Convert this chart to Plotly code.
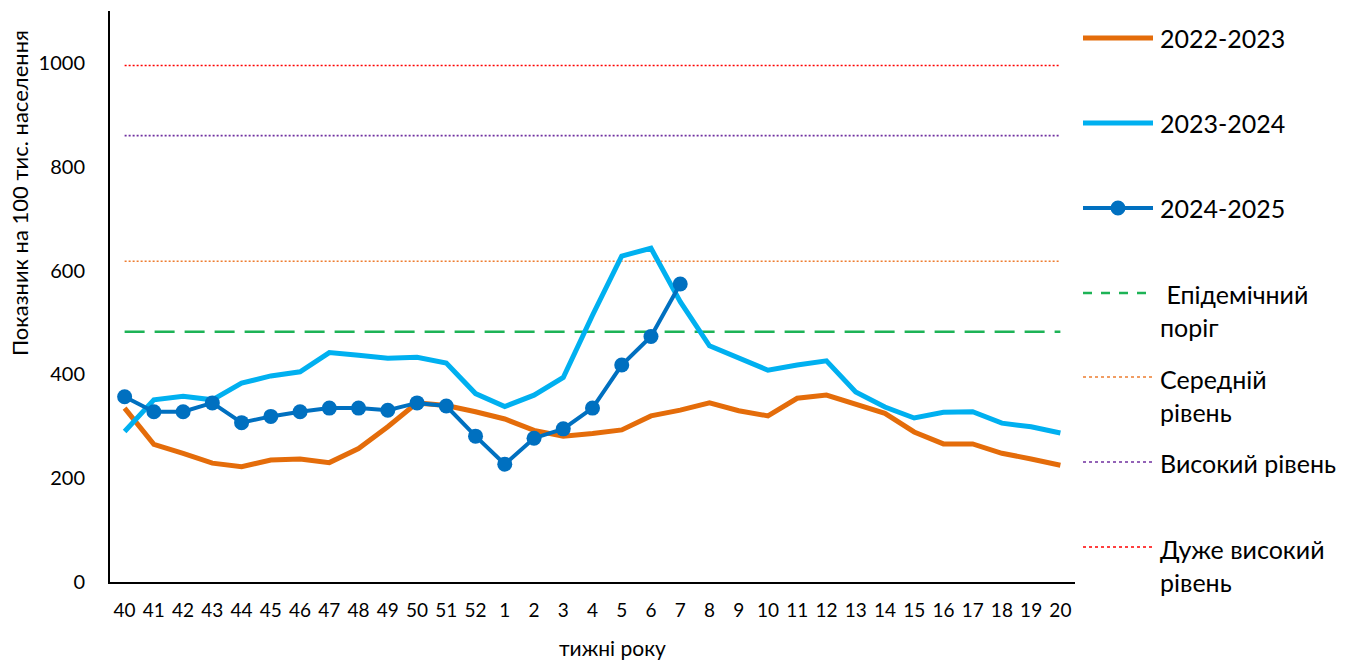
import plotly.graph_objects as go

# ---------------- data ----------------
weeks = ["40", "41", "42", "43", "44", "45", "46", "47", "48", "49", "50", "51", "52",
         "1", "2", "3", "4", "5", "6", "7", "8", "9", "10", "11", "12", "13", "14",
         "15", "16", "17", "18", "19", "20"]

season_2022_2023 = [335, 265, 248, 229, 222, 235, 237, 230, 257, 299, 345, 340, 328,
                    314, 292, 281, 286, 293, 320, 331, 345, 330, 320, 354, 360, 342,
                    325, 289, 266, 266, 248, 237, 225]
season_2023_2024 = [290, 351, 358, 351, 383, 397, 405, 442, 437, 431, 433, 422, 363,
                    338, 360, 394, 514, 628, 643, 540, 455, 431, 408, 418, 426, 366,
                    337, 316, 327, 328, 306, 299, 287]
season_2024_2025 = [357, 328, 328, 345, 307, 319, 328, 335, 335, 331, 345, 339, 281,
                    227, 277, 295, 335, 418, 473, 574] + [None] * 13

epidemic_threshold = 482
medium_level = 618
high_level = 860
very_high_level = 995

y_ticks = [0, 200, 400, 600, 800, 1000]

series_names = ["2022-2023", "2023-2024", "2024-2025"]
level_names = [" Епідемічний<br>поріг", "Середній<br>рівень", "Високий рівень",
               "Дуже високий<br>рівень"]
x_title = "тижні року"
y_title = "Показник на 100 тис. населення"

# ---------------- style ----------------
FONT = "Lato, 'Noto Sans', sans-serif"
C_ORANGE = "#E46C0A"
C_LIGHT = "#00B0F0"
C_DARK = "#0070C0"
C_GREEN = "#1DB356"
C_MED = "#ED7D31"
C_HIGH = "#7030A0"
C_VHIGH = "#FF0000"

W, H = 1353, 663
ML, MR, MT, MB = 110, 278, 11, 81
PW, PH = W - ML - MR, H - MT - MB


def px2x(px):
    return (px - ML) / PW


def px2y(py):
    return (H - MB - py) / PH


fig = go.Figure()

# threshold lines (beneath data)
levels = [
    (epidemic_threshold, C_GREEN, 2.5, "20px,10px"),
    (medium_level, C_MED, 1.6, "2px,2px"),
    (high_level, C_HIGH, 1.6, "2px,2px"),
    (very_high_level, C_VHIGH, 1.6, "2px,2px"),
]
for (val, col, w, dash), name in zip(levels, level_names):
    fig.add_trace(go.Scatter(
        x=weeks, y=[val] * len(weeks), mode="lines", name=name,
        line=dict(color=col, width=w, dash=dash), hoverinfo="skip",
        showlegend=False))

fig.add_trace(go.Scatter(x=weeks, y=season_2022_2023, mode="lines",
                         name=series_names[0],
                         line=dict(color=C_ORANGE, width=5), showlegend=False))
fig.add_trace(go.Scatter(x=weeks, y=season_2023_2024, mode="lines",
                         name=series_names[1],
                         line=dict(color=C_LIGHT, width=5), showlegend=False))
fig.add_trace(go.Scatter(x=weeks, y=season_2024_2025, mode="lines+markers",
                         name=series_names[2],
                         line=dict(color=C_DARK, width=4),
                         marker=dict(color=C_DARK, size=15),
                         showlegend=False))

# ---------------- manual legend ----------------
shapes = []
annotations = []
LX0, LX1, TX = 1083, 1153, 1158
legend_items = [
    (series_names[0], 38, C_ORANGE, 5, "solid", False, 38),
    (series_names[1], 123, C_LIGHT, 5, "solid", False, 123),
    (series_names[2], 208, C_DARK, 4, "solid", True, 208),
    (level_names[0], 293, C_GREEN, 2.5, "dash", False, 310),
    (level_names[1], 377, C_MED, 1.6, "dot", False, 395),
    (level_names[2], 462, C_HIGH, 1.6, "dot", False, 463),
    (level_names[3], 547, C_VHIGH, 1.6, "dot", False, 565),
]
for text, ly, col, w, dash, marker, ty in legend_items:
    shapes.append(dict(type="line", xref="paper", yref="paper",
                       x0=px2x(LX0), x1=px2x(LX1), y0=px2y(ly), y1=px2y(ly),
                       line=dict(color=col, width=w, dash=dash)))
    if marker:
        cx = (LX0 + LX1) / 2
        shapes.append(dict(type="circle", xref="paper", yref="paper",
                           x0=px2x(cx - 7.5), x1=px2x(cx + 7.5),
                           y0=px2y(ly + 7.5), y1=px2y(ly - 7.5),
                           fillcolor=col, line=dict(color=col, width=0)))
    annotations.append(dict(text=text, xref="paper", yref="paper",
                            x=px2x(TX), y=px2y(ty), xanchor="left",
                            yanchor="middle", align="left", showarrow=False,
                            font=dict(family=FONT, size=25, color="#000000")))

# axis titles
annotations.append(dict(text=y_title, xref="paper", yref="paper",
                        x=px2x(19), y=px2y(193), xanchor="center",
                        yanchor="middle", textangle=-90, showarrow=False,
                        font=dict(family=FONT, size=22, color="#000000")))
annotations.append(dict(text=x_title, xref="paper", yref="paper",
                        x=px2x(612), y=px2y(647), xanchor="center",
                        yanchor="middle", showarrow=False,
                        font=dict(family=FONT, size=21, color="#000000")))

fig.update_layout(
    width=W, height=H,
    margin=dict(l=ML, r=MR, t=MT, b=MB, pad=0),
    paper_bgcolor="white", plot_bgcolor="white",
    showlegend=False,
    shapes=shapes, annotations=annotations,
    font=dict(family=FONT, color="#000000"),
)
fig.update_xaxes(type="category", range=[-0.5, len(weeks) - 0.5],
                 showline=True, linecolor="#000000", linewidth=2,
                 showgrid=False, zeroline=False, ticks="",
                 tickfont=dict(family=FONT, size=19, color="#000000"),
                 ticklabelstandoff=10, tickangle=0)
fig.update_yaxes(range=[0, 1100], tickvals=y_ticks,
                 showline=True, linecolor="#000000", linewidth=2,
                 showgrid=False, zeroline=False, ticks="",
                 tickfont=dict(family=FONT, size=20, color="#000000"),
                 ticklabelstandoff=19)

fig.write_html("out.html",
               config={"displayModeBar": False},
               post_script="document.body.style.margin='0';"
                           "document.body.style.overflow='hidden';")
